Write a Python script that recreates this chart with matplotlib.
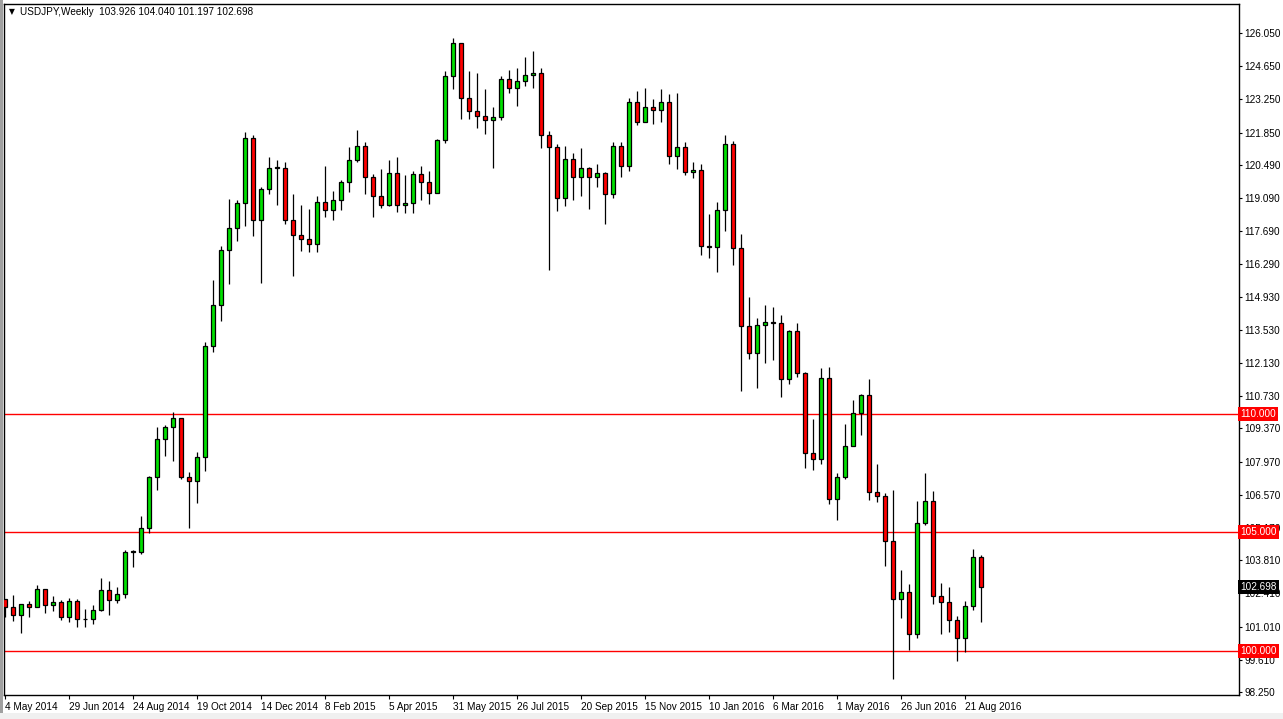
import matplotlib
matplotlib.use("Agg")
import matplotlib.pyplot as plt
import matplotlib.transforms as mtransforms
from matplotlib.patches import Rectangle

plt.rcParams['font.family'] = ['Liberation Sans', 'DejaVu Sans']

# weekly USDJPY candles, 4 May 2014 .. early Sep 2016
opens = [102.16, 101.82, 101.48, 101.95, 101.82, 102.58, 101.91, 102.03, 101.40, 102.08,
         101.31, 101.31, 101.70, 102.54, 102.12, 102.37, 104.15, 104.15, 105.17, 107.33,
         108.94, 109.41, 109.79, 107.34, 107.17, 108.18, 112.83, 114.56, 116.89, 117.82,
         118.87, 121.62, 118.18, 119.49, 120.37, 120.37, 118.18, 117.54, 117.37, 117.16,
         118.94, 118.60, 119.02, 119.78, 120.71, 121.30, 119.99, 119.19, 118.81, 120.16,
         118.81, 118.90, 120.12, 119.78, 119.32, 121.52, 124.22, 125.61, 123.29, 122.75,
         122.57, 122.40, 122.49, 124.13, 123.75, 124.01, 124.30, 124.35, 121.73, 121.26,
         119.11, 120.75, 119.99, 120.37, 119.99, 120.16, 119.28, 121.30, 120.46, 123.16,
         122.28, 122.91, 122.82, 123.16, 120.88, 121.26, 120.20, 120.29, 117.08, 117.01,
         118.58, 121.37, 116.97, 113.68, 112.54, 113.72, 113.85, 113.81, 111.44, 113.47,
         111.69, 108.32, 108.07, 111.48, 106.41, 107.34, 108.65, 110.04, 110.76, 106.67,
         106.50, 104.64, 102.19, 102.49, 100.68, 105.40, 106.29, 102.32, 102.03, 101.27,
         100.55, 101.90, 103.926]
highs = [102.19, 102.35, 101.95, 102.08, 102.75, 102.60, 102.29, 102.12, 102.20, 102.16,
         101.74, 101.91, 103.05, 102.92, 102.67, 104.24, 104.24, 105.68, 107.37, 109.45,
         109.53, 110.08, 109.80, 107.55, 108.37, 113.00, 115.62, 117.06, 119.03, 118.99,
         121.87, 121.76, 119.57, 120.80, 120.71, 120.63, 119.28, 118.81, 118.64, 119.19,
         120.46, 119.40, 119.83, 121.26, 121.98, 121.47, 120.12, 120.33, 120.71, 120.80,
         120.08, 120.25, 120.46, 120.25, 121.56, 124.43, 125.83, 125.62, 124.43, 124.35,
         123.71, 122.91, 124.22, 124.47, 124.56, 125.06, 125.28, 124.56, 121.90, 121.39,
         121.30, 120.97, 121.22, 120.41, 120.54, 120.20, 121.47, 121.47, 123.33, 123.59,
         123.75, 123.25, 123.67, 123.46, 123.54, 121.47, 120.63, 120.52, 118.41, 118.92,
         121.76, 121.49, 117.56, 114.90, 114.01, 114.56, 114.48, 114.14, 113.51, 113.81,
         111.73, 109.76, 111.90, 111.95, 107.51, 109.55, 110.59, 110.84, 111.44, 107.89,
         106.63, 106.79, 103.38, 102.79, 106.33, 107.47, 106.71, 102.83, 102.66, 101.44,
         102.11, 104.30, 104.040]
lows = [101.40, 101.26, 100.75, 101.40, 101.82, 101.57, 101.65, 101.27, 101.19, 101.00,
        101.00, 101.14, 101.68, 101.48, 101.99, 102.20, 103.52, 104.07, 104.96, 106.78,
        108.22, 108.00, 107.25, 105.15, 106.24, 107.59, 112.58, 113.89, 115.45, 117.27,
        117.90, 117.48, 115.50, 119.28, 118.81, 117.99, 115.80, 116.87, 116.83, 116.83,
        118.30, 118.18, 118.60, 119.36, 120.59, 119.28, 118.29, 118.68, 118.77, 118.52,
        118.47, 118.47, 119.02, 118.85, 119.32, 121.42, 123.70, 122.44, 122.43, 122.06,
        121.81, 120.37, 122.40, 123.54, 122.99, 123.80, 123.75, 121.18, 116.04, 118.56,
        118.77, 119.02, 119.19, 118.64, 119.57, 118.01, 119.11, 119.99, 120.25, 122.19,
        122.28, 122.23, 122.28, 120.54, 120.33, 120.08, 119.95, 116.70, 116.55, 115.99,
        117.68, 116.28, 110.96, 112.32, 111.06, 112.15, 112.24, 110.68, 111.23, 111.56,
        107.68, 107.63, 107.86, 106.19, 105.51, 107.22, 108.61, 109.11, 106.37, 106.25,
        103.55, 98.82, 101.39, 100.04, 100.55, 105.28, 101.98, 100.68, 100.80, 99.54,
        99.92, 101.73, 101.197]
closes = [101.82, 101.48, 101.95, 101.82, 102.58, 101.91, 102.03, 101.40, 102.08, 101.31,
          101.33, 101.70, 102.54, 102.12, 102.37, 104.15, 104.18, 105.17, 107.33, 108.94,
          109.41, 109.79, 107.34, 107.17, 108.18, 112.83, 114.56, 116.89, 117.82, 118.87,
          121.62, 118.18, 119.49, 120.37, 120.39, 118.18, 117.54, 117.37, 117.16, 118.94,
          118.60, 119.02, 119.78, 120.71, 121.30, 119.99, 119.19, 118.81, 120.16, 118.81,
          118.90, 120.12, 119.78, 119.32, 121.52, 124.22, 125.61, 123.29, 122.75, 122.57,
          122.40, 122.49, 124.13, 123.75, 124.01, 124.30, 124.35, 121.73, 121.26, 119.11,
          120.75, 119.99, 120.37, 119.99, 120.16, 119.28, 121.30, 120.46, 123.16, 122.28,
          122.91, 122.82, 123.16, 120.88, 121.26, 120.20, 120.29, 117.08, 117.01, 118.58,
          121.37, 116.97, 113.68, 112.54, 113.72, 113.85, 113.81, 111.44, 113.47, 111.69,
          108.32, 108.07, 111.48, 106.41, 107.34, 108.65, 110.04, 110.76, 106.67, 106.50,
          104.64, 102.19, 102.49, 100.68, 105.40, 106.29, 102.32, 102.03, 101.27, 100.55,
          101.90, 103.93, 102.698]

date_labels = ['4 May 2014', '29 Jun 2014', '24 Aug 2014', '19 Oct 2014', '14 Dec 2014',
               '8 Feb 2015', '5 Apr 2015', '31 May 2015', '26 Jul 2015', '20 Sep 2015',
               '15 Nov 2015', '10 Jan 2016', '6 Mar 2016', '1 May 2016', '26 Jun 2016',
               '21 Aug 2016']
# 105.170 is kept; it sits mostly under the red 105.000 box like in the terminal
price_ticks = [126.050, 124.650, 123.250, 121.850, 120.490, 119.090, 117.690, 116.290,
               114.930, 113.530, 112.130, 110.730, 109.370, 107.970, 106.570, 105.170,
               103.810, 102.410, 101.010, 99.610, 98.250]
levels = [110.0, 105.0, 100.0]
last_price = 102.698

W, H = 1283, 719
fig = plt.figure(figsize=(W / 100, H / 100), dpi=100)
fig.patch.set_facecolor('white')
ax = fig.add_axes([4 / W, (H - 695) / H, (1239 - 4) / W, (695 - 4) / H])

bull = '#00e000'
bear = '#ff0000'
for i in range(len(opens)):
    o, h, l, c = opens[i], highs[i], lows[i], closes[i]
    ax.vlines(i, l, h, color='black', lw=0.9, zorder=2)
    col = bull if c >= o else bear
    ax.bar(i, abs(c - o), bottom=min(o, c), width=0.62, color=col,
           edgecolor='black', linewidth=0.9, zorder=3)

for lv in levels:
    ax.axhline(lv, color='#ff0000', lw=1.0, zorder=1)

ax.set_xlim(-0.125, 154.25)
ax.set_ylim(98.125, 127.275)

ax.set_xticks(range(0, 8 * len(date_labels), 8))
ax.set_xticklabels(date_labels, ha='left')
ax.yaxis.tick_right()
ax.set_yticks(price_ticks)
ax.set_yticklabels(['%.3f' % p for p in price_ticks])
ax.tick_params(axis='both', direction='out', width=0.8, labelsize=7.2, colors='black')
ax.tick_params(axis='x', length=3, pad=2)
ax.tick_params(axis='y', length=2.5, pad=1.5)
for sp in ax.spines.values():
    sp.set_color('black')
    sp.set_linewidth(1.0)

# boxed price labels on the right scale
trans = mtransforms.blended_transform_factory(ax.transAxes, ax.transData)
for lv in levels:
    ax.text(1.0012, lv, '%.3f' % lv, transform=trans, fontsize=7.2, color='white',
            va='center', ha='left', zorder=10, clip_on=False,
            bbox=dict(boxstyle='square,pad=0.2', fc='#ff0000', ec='none'))
ax.text(1.0012, last_price, '%.3f' % last_price, transform=trans, fontsize=7.2,
        color='white', va='center', ha='left', zorder=10, clip_on=False,
        bbox=dict(boxstyle='square,pad=0.2', fc='black', ec='none'))

fig.text(9 / W, 1 - 12 / H, '\u25bc', fontsize=5.5, va='center', ha='left',
         family=['DejaVu Sans'])
fig.text(20 / W, 1 - 12 / H, 'USDJPY,Weekly  103.926 104.040 101.197 102.698',
         fontsize=7.2, va='center', ha='left')

# window frame
fig.patches.append(Rectangle((0, 0), 2.5 / W, 1, transform=fig.transFigure,
                             fc='#a0a0a0', ec='none'))
fig.patches.append(Rectangle((0, 0), 1, 6 / H, transform=fig.transFigure,
                             fc='#f0f0f0', ec='none'))

fig.savefig('out.png', dpi=100)
